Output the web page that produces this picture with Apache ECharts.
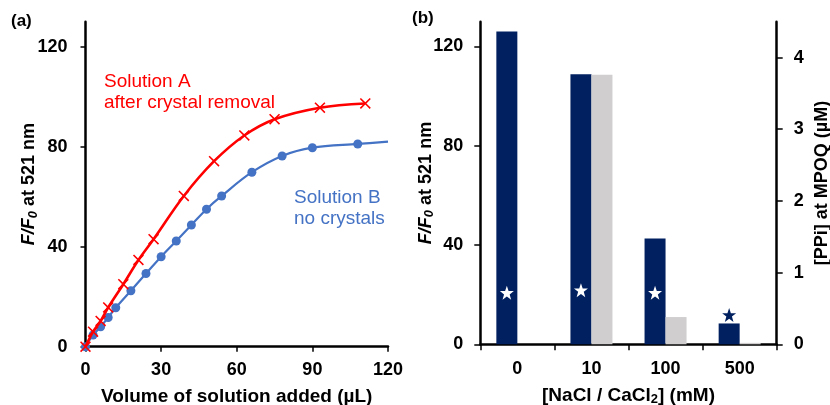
<!DOCTYPE html>
<html><head><meta charset="utf-8">
<script src="https://cdn.jsdelivr.net/npm/echarts@6/dist/echarts.min.js"></script>
<style>html,body{margin:0;padding:0;background:#fff}#c{width:830px;height:405px}</style>
</head><body><div id="c"></div>
<script>
// Panel (a)
const redX = [0, 3, 6, 9, 15, 21, 27, 39, 51, 63, 75, 93, 111];
const redY = [0, 6, 10.3, 15.7, 25, 34.7, 43, 60.3, 74.2, 84.5, 91, 95.6, 97.3];
const blueX = [0, 3, 6, 9, 12, 18, 24, 30, 36, 42, 48, 54, 66, 78, 90, 108, 120];
const blueY = [0, 4.7, 8, 11.7, 15.6, 22.4, 29.3, 36, 42.3, 48.7, 55, 60.3, 69.8, 76.3, 79.6, 81.1, 82];
const ticksAX = [0, 30, 60, 90, 120];
const ticksAY = [0, 40, 80, 120];
// Panel (b)
const categoriesB = ['0', '10', '100', '500'];
const navyBars = [126.1, 108.8, 42.6, 8.4];      // F/F0 at 521 nm
const greyBars = [null, 3.76, 0.38, 0.02];       // [PPi] at MPOQ (µM)
const starVals = [0.72, 0.755, 0.72, 0.41];      // [PPi] at MPOQ (µM)
const ticksBL = [0, 40, 80, 120];
const ticksBR = [0, 1, 2, 3, 4];

const NAVY = '#002060', GREY = '#D0CECE', RED = '#FF0000', BLUE = '#4472C4';
const FONT = 'Liberation Sans, Arial, sans-serif';
const starPath = 'path://M0,-10 L2.35,-3.24 L9.51,-3.09 L3.8,1.24 L5.88,8.09 L0,4 L-5.88,8.09 L-3.8,1.24 L-9.51,-3.09 L-2.35,-3.24Z';
const xPath = 'path://M0,2 L2,0 L10,8 L18,0 L20,2 L12,10 L20,18 L18,20 L10,12 L2,20 L0,18 L8,10Z';
const BW = 21;
const FS = 18;

const axisLine = {show: true, lineStyle: {color: '#000', width: 2.5}};
const tickStyle = (len, cv) => ({show: true, length: len, customValues: cv, lineStyle: {color: '#000', width: 1.5}});
const lab = (cv, m) => ({customValues: cv, color: '#000', fontFamily: FONT, fontWeight: 'bold', fontSize: FS, margin: m});
const nameRich = {
  i: {fontFamily: FONT, fontStyle: 'italic', fontWeight: 'bold', fontSize: FS, color: '#000'},
  s: {fontFamily: FONT, fontStyle: 'italic', fontWeight: 'bold', fontSize: 13, color: '#000', padding: [8, 0, 0, 0]},
  n: {fontFamily: FONT, fontWeight: 'bold', fontSize: FS, color: '#000'},
  nx: {fontFamily: FONT, fontWeight: 'bold', fontSize: 19, color: '#000'},
  ns: {fontFamily: FONT, fontWeight: 'bold', fontSize: 13, color: '#000', padding: [8, 0, 0, 0]}
};

const chart = echarts.init(document.getElementById('c'), null, {renderer: 'canvas'});
chart.setOption({
  animation: false,
  grid: [
    {left: 85.5, right: 442, top: 21.7, bottom: 58.3, containLabel: false, outerBoundsMode: 'none'},
    {left: 480.3, right: 53.3, top: 21.7, bottom: 60.7, containLabel: false, outerBoundsMode: 'none'}
  ],
  xAxis: [
    {type: 'value', gridIndex: 0, min: 0, max: 120, interval: 30,
     axisLine: axisLine, axisTick: tickStyle(5, ticksAX), axisLabel: lab(ticksAX, 14), splitLine: {show: false},
     name: 'Volume of solution added (µL)', nameLocation: 'middle', nameGap: 41, nameMoveOverlap: false,
     nameTextStyle: {fontFamily: FONT, fontWeight: 'bold', fontSize: 19, color: '#000'}},
    {type: 'category', gridIndex: 1, data: categoriesB,
     axisLine: axisLine, axisTick: {show: true, length: 6, lineStyle: {color: '#000', width: 1.5}},
     axisLabel: {color: '#000', fontFamily: FONT, fontWeight: 'bold', fontSize: FS, margin: 16},
     name: '{nx|[NaCl / CaCl}{ns|2}{nx|] (mM)}', nameLocation: 'middle', nameGap: 41, nameMoveOverlap: false,
     nameTextStyle: {rich: nameRich}}
  ],
  yAxis: [
    {type: 'value', gridIndex: 0, min: 0, max: 130,
     axisLine: axisLine, axisTick: tickStyle(5, ticksAY), axisLabel: lab(ticksAY, 18), splitLine: {show: false},
     name: '{i|F/F}{s|0}{n| at 521 nm}', nameLocation: 'middle', nameGap: 46, nameMoveOverlap: false,
     nameTextStyle: {rich: nameRich}},
    {type: 'value', gridIndex: 1, min: 0, max: 130,
     axisLine: axisLine, axisTick: tickStyle(6, ticksBL), axisLabel: lab(ticksBL, 17), splitLine: {show: false},
     name: '{i|F/F}{s|0}{n| at 521 nm}', nameLocation: 'middle', nameGap: 44, nameMoveOverlap: false,
     nameTextStyle: {rich: nameRich}},
    {type: 'value', gridIndex: 1, min: 0, max: 4.5, position: 'right',
     axisLine: axisLine, axisTick: tickStyle(6, ticksBR), axisLabel: lab(ticksBR, 17), splitLine: {show: false},
     name: '[PPi] at MPOQ (µM)', nameLocation: 'middle', nameGap: 36, nameRotate: 90, nameMoveOverlap: false,
     nameTextStyle: {fontFamily: FONT, fontWeight: 'bold', fontSize: FS, color: '#000'}}
  ],
  series: [
    {type: 'line', xAxisIndex: 0, yAxisIndex: 0, smooth: 0.35, z: 2,
     data: blueX.map((x, i) => i === blueX.length - 1 ? {value: [x, blueY[i]], symbol: 'none'} : [x, blueY[i]]),
     symbol: 'circle', symbolSize: 9, showAllSymbol: true,
     lineStyle: {color: BLUE, width: 2.2}, itemStyle: {color: BLUE}},
    {type: 'line', xAxisIndex: 0, yAxisIndex: 0, smooth: 0.35, z: 3,
     data: redX.map((x, i) => [x, redY[i]]),
     symbol: xPath, symbolSize: 11, showAllSymbol: true,
     lineStyle: {color: RED, width: 2.6}, itemStyle: {color: RED}},
    {type: 'bar', xAxisIndex: 1, yAxisIndex: 1, data: navyBars, barWidth: BW, barGap: '0%',
     itemStyle: {color: NAVY}},
    {type: 'bar', xAxisIndex: 1, yAxisIndex: 2, data: greyBars.map(v => v === null ? '-' : v), barWidth: BW, barGap: '0%',
     itemStyle: {color: GREY}},
    {type: 'scatter', xAxisIndex: 1, yAxisIndex: 2, z: 5,
     data: starVals.map((v, i) => ({value: v, itemStyle: {opacity: 1, color: v * 130 / 4.5 > navyBars[i] ? NAVY : '#fff'}})),
     symbol: starPath, symbolSize: 14, symbolOffset: [-BW / 2, 0], itemStyle: {opacity: 1}}
  ],
  graphic: [
    {type: 'text', left: 11, top: 13, style: {text: '(a)', font: 'bold 17px ' + FONT, fill: '#000'}},
    {type: 'text', left: 412, top: 10, style: {text: '(b)', font: 'bold 17px ' + FONT, fill: '#000'}},
    {type: 'text', left: 104, top: 71, style: {text: 'Solution A\nafter crystal removal', font: '19px ' + FONT, fill: RED, lineHeight: 21}},
    {type: 'text', left: 294, top: 187, style: {text: 'Solution B\nno crystals', font: '19px ' + FONT, fill: BLUE, lineHeight: 21, align: 'center', x: 45}}
  ]
});
</script></body></html>
